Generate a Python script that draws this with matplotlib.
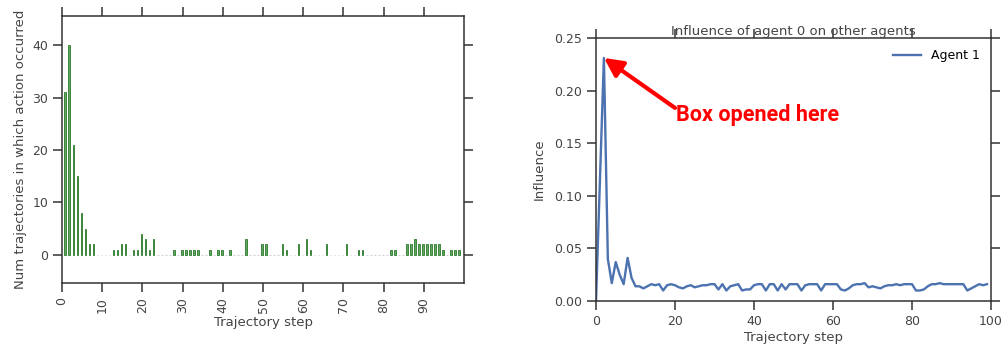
import matplotlib
matplotlib.use('Agg')
import matplotlib.pyplot as plt
import numpy as np

# left panel: how many trajectories had the action at each step
action_steps = list(range(1, 100))
action_counts = [31, 40, 21, 15, 8, 5, 2, 2, 0, 0,
                 0, 0, 1, 1, 2, 2, 0, 1, 1, 4,
                 3, 1, 3, 0, 0, 0, 0, 1, 0, 1,
                 1, 1, 1, 1, 0, 0, 1, 0, 1, 1,
                 0, 1, 0, 0, 0, 3, 0, 0, 0, 2,
                 2, 0, 0, 0, 2, 1, 0, 0, 2, 0,
                 3, 1, 0, 0, 0, 2, 0, 0, 0, 0,
                 2, 0, 0, 1, 1, 0, 0, 0, 0, 0,
                 0, 1, 1, 0, 0, 2, 2, 3, 2, 2,
                 2, 2, 2, 2, 1, 0, 1, 1, 1]

# right panel: influence of agent 0 on agent 1
influence_steps = list(range(0, 100))
influence_agent1 = [0.000, 0.115, 0.231, 0.040, 0.017, 0.037, 0.025, 0.016, 0.041, 0.022,
                    0.014, 0.014, 0.012, 0.014, 0.016, 0.015, 0.016, 0.010, 0.015, 0.016,
                    0.015, 0.013, 0.012, 0.014, 0.015, 0.013, 0.014, 0.015, 0.015, 0.016,
                    0.016, 0.011, 0.016, 0.010, 0.014, 0.015, 0.016, 0.010, 0.011, 0.011,
                    0.015, 0.016, 0.016, 0.010, 0.016, 0.016, 0.010, 0.016, 0.011, 0.016,
                    0.016, 0.016, 0.010, 0.015, 0.016, 0.016, 0.016, 0.010, 0.016, 0.016,
                    0.016, 0.016, 0.011, 0.010, 0.012, 0.015, 0.016, 0.016, 0.017, 0.013,
                    0.014, 0.013, 0.012, 0.014, 0.015, 0.015, 0.016, 0.015, 0.016, 0.016,
                    0.016, 0.010, 0.010, 0.011, 0.014, 0.016, 0.016, 0.017, 0.016, 0.016,
                    0.016, 0.016, 0.016, 0.016, 0.010, 0.012, 0.014, 0.016, 0.015, 0.016]

text_gray = '#444444'
plt.rcParams['font.family'] = 'DejaVu Sans'
plt.rcParams['axes.edgecolor'] = '#333333'
plt.rcParams['axes.linewidth'] = 1.1
plt.rcParams['xtick.color'] = '#333333'
plt.rcParams['ytick.color'] = '#333333'
plt.rcParams['xtick.labelcolor'] = text_gray
plt.rcParams['ytick.labelcolor'] = text_gray
plt.rcParams['axes.labelcolor'] = text_gray


def style_ticks(ax):
    ax.tick_params(direction='out', length=6.5, width=1.1, labelsize=9,
                   top=True, right=True, labeltop=False, labelright=False)


fig = plt.figure(figsize=(10.01, 3.48), dpi=100)

# --- left: action histogram
ax1 = fig.add_axes([0.062, 0.186, 0.4015, 0.769])
edge_colors = ['#2b7a2b' if c > 0 else '#c8c8c8' for c in action_counts]
ax1.bar(np.array(action_steps) - 0.2, action_counts, width=0.4,
        facecolor='#62a462', edgecolor=edge_colors, linewidth=0.6)
ax1.set_xlim(0, 100)
ax1.set_ylim(-5.4, 45.6)
ax1.set_xticks(range(0, 100, 10))
ax1.set_yticks(range(0, 41, 10))
style_ticks(ax1)
for lbl in ax1.get_xticklabels():
    lbl.set_rotation(90)
ax1.set_xlabel('Trajectory step', fontsize=9.5, labelpad=2)
ax1.set_ylabel('Num trajectories in which action occurred', fontsize=9.5, labelpad=4)

# --- right: influence line
ax2 = fig.add_axes([0.5954, 0.135, 0.3946, 0.756])
ax2.plot(influence_steps, influence_agent1, color='#4c72b0', linewidth=1.7, label='Agent 1')
ax2.set_xlim(0, 100)
ax2.set_ylim(0, 0.25)
ax2.set_xticks(range(0, 101, 20))
ax2.set_yticks(np.arange(0, 0.251, 0.05))
ax2.yaxis.set_major_formatter(matplotlib.ticker.FormatStrFormatter('%.2f'))
style_ticks(ax2)
ax2.set_title('Influence of agent 0 on other agents', fontsize=9.5, color=text_gray, pad=2)
ax2.set_xlabel('Trajectory step', fontsize=9.5, labelpad=2)
ax2.set_ylabel('Influence', fontsize=9.5, labelpad=6)
ax2.legend(loc='upper right', frameon=False, fontsize=9, handlelength=2.2)

peak = int(np.argmax(influence_agent1))
ax2.annotate('', xy=(influence_steps[peak], influence_agent1[peak]), xytext=(20, 0.1835),
             arrowprops=dict(arrowstyle='-|>', color='red', lw=3, mutation_scale=28,
                             shrinkA=0, shrinkB=0))
ax2.text(20.3, 0.177, 'Box opened here', color='red', fontsize=15.5, fontweight='bold',
         family='Roboto', ha='left', va='center')

fig.savefig('out.png', dpi=100)
